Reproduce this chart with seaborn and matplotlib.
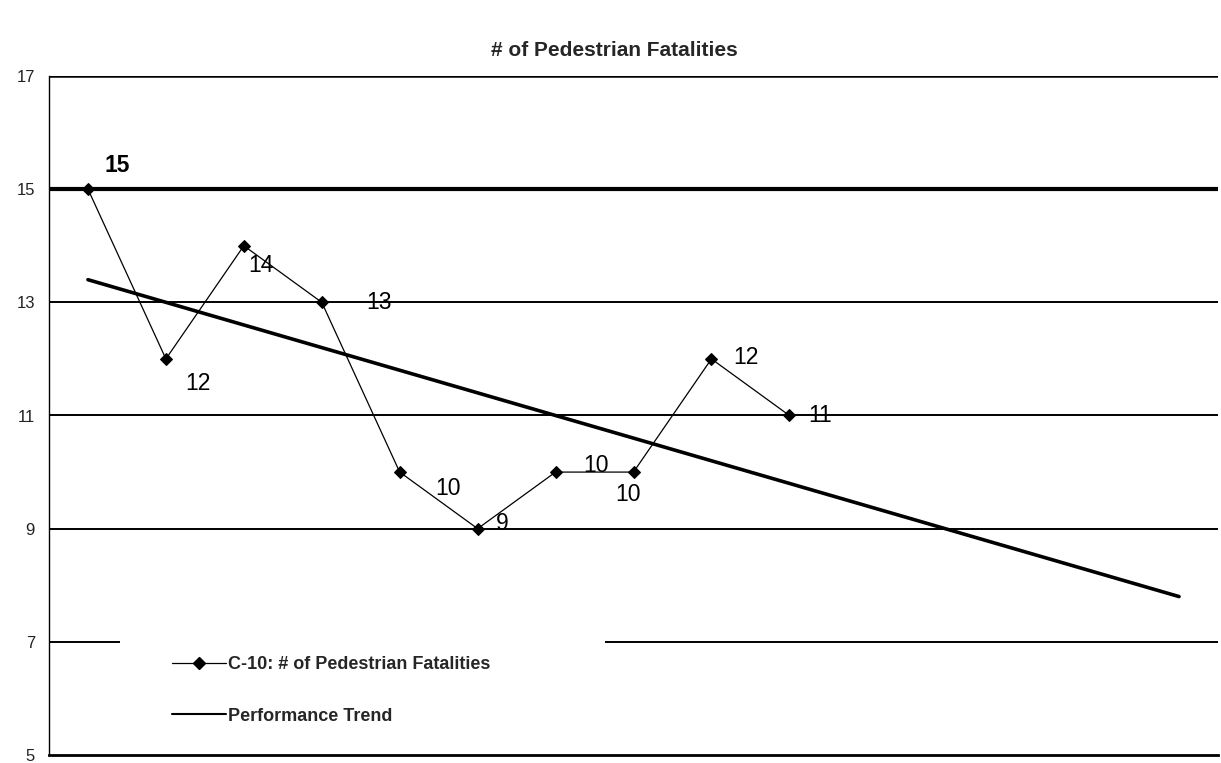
import matplotlib
matplotlib.use("Agg")
import matplotlib.pyplot as plt
from matplotlib.patches import Rectangle
from matplotlib.lines import Line2D
import seaborn as sns
import pandas as pd

# ---- data ----
categories = list(range(1, 16))
fatalities = [15, 12, 14, 13, 10, 9, 10, 10, 12, 11]
trend = [13.4, 13.0, 12.6, 12.2, 11.8, 11.4, 11.0, 10.6, 10.2, 9.8, 9.4, 9.0, 8.6, 8.2, 7.8]
label_offsets = [(21, 17), (23, -18), (12, -14), (41, 0), (35, -12),
                 (18, 4), (29, 5), (-4, -16), (25, 1), (22, 0)]
yticks = [5, 7, 9, 11, 13, 15, 17]
title = "# of Pedestrian Fatalities"
series_label = "C-10: # of Pedestrian Fatalities"
trend_label = "Performance Trend"

sns.set_style("white")
plt.rcParams['font.family'] = ['Liberation Sans', 'DejaVu Sans']
narrow = ['Liberation Sans Narrow', 'Liberation Sans', 'DejaVu Sans']

fig = plt.figure(figsize=(12.21, 7.63), dpi=100)
ax = fig.add_axes([49 / 1221, 8 / 763, 1169 / 1221, 679 / 763])

df_data = pd.DataFrame({"x": [c - 1 for c in categories[:len(fatalities)]], "y": fatalities})
df_trend = pd.DataFrame({"x": [c - 1 for c in categories], "y": trend})

# gridlines
for v in yticks[1:]:
    ax.axhline(v, color="black", lw=3.0 if v == 15 else (1.8 if v == 17 else 1.4), zorder=1)

sns.lineplot(data=df_trend, x="x", y="y", ax=ax, color="black", lw=2.6, zorder=3)
sns.lineplot(data=df_data, x="x", y="y", ax=ax, color="black", lw=0.9,
             marker="D", markersize=6, markeredgecolor="black", zorder=4)

for i, (v, off) in enumerate(zip(fatalities, label_offsets)):
    ax.annotate(str(v), (i, v), xytext=off, textcoords="offset points",
                ha="center", va="center", fontsize=16.5, color="black",
                fontweight="bold" if i == 0 else "normal", zorder=5)

ax.set_xlim(-0.5, 14.5)
ax.set_ylim(5, 17)
ax.set_yticks(yticks)
ax.set_yticklabels([str(t) for t in yticks], fontsize=12, color="#222222")
ax.set_xticks([k - 0.5 for k in range(16)])
ax.set_xticklabels([])
ax.set_xlabel("")
ax.set_ylabel("")
ax.tick_params(axis="y", direction="out", length=6, width=1, color="black", pad=4)
ax.tick_params(axis="x", direction="out", length=10, width=1, color="black")
for s in ["top", "right"]:
    ax.spines[s].set_visible(False)
ax.spines["left"].set_color("black")
ax.spines["left"].set_linewidth(1)
ax.spines["bottom"].set_color("black")
ax.spines["bottom"].set_linewidth(2)

# legend area (white box covering gridline)
ax.add_patch(Rectangle(((120 - 49) / 1169, (763 - 8 - 740) / 679), 485 / 1169, 115 / 679,
                       transform=ax.transAxes, facecolor="white", edgecolor="none", zorder=6))
handles = [Line2D([], [], color="black", lw=0.9, marker="D", markersize=6),
           Line2D([], [], color="black", lw=1.5)]
leg = ax.legend(handles, [series_label, trend_label], loc="upper left",
                bbox_to_anchor=((165 - 49) / 1169, (763 - 8 - 649) / 679),
                frameon=False, handlelength=3.0, handletextpad=0.1, labelspacing=1.9,
                prop={"family": narrow, "size": 13, "weight": "bold"}, borderaxespad=0)
leg.set_zorder(7)

fig.text(0.503, 1 - 50 / 763, title, ha="center", va="center",
         fontsize=15, fontweight="bold", family=narrow)

fig.savefig("out.png", dpi=100)
